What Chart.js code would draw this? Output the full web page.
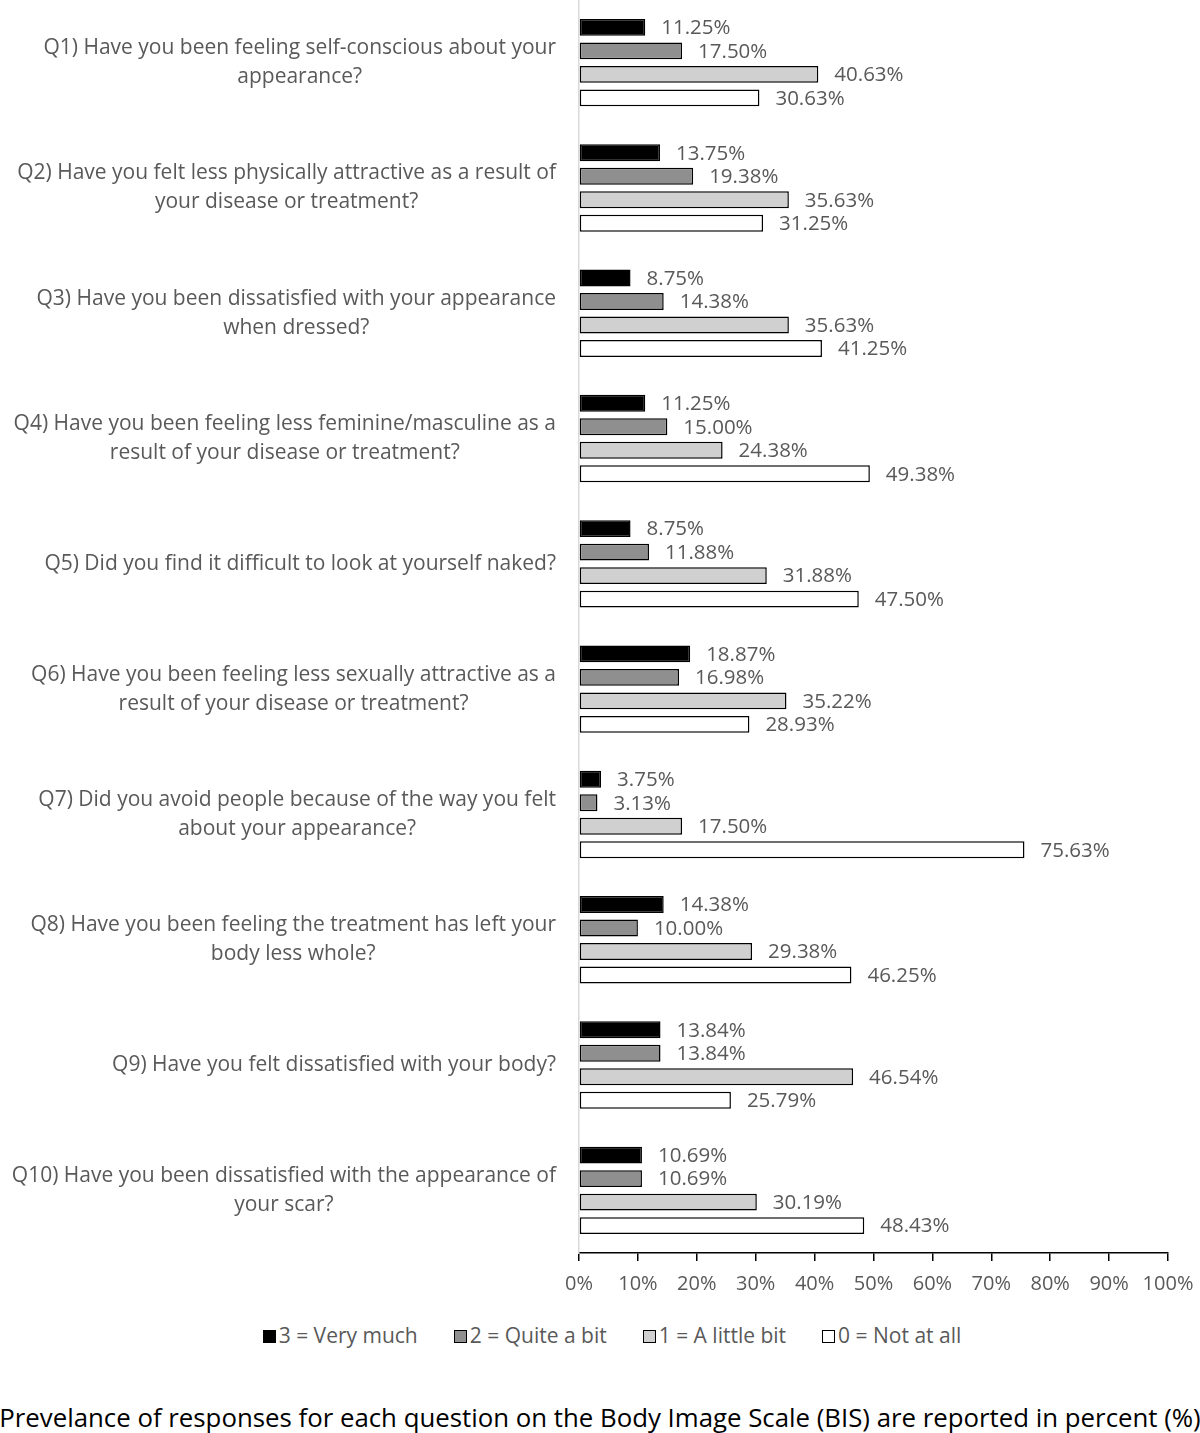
<!DOCTYPE html>
<html lang="en">

<head>
  <meta charset="UTF-8">
  <title>Body Image Scale responses</title>
  <script src="https://cdn.jsdelivr.net/npm/chart.js"></script>
  <style>
    body { margin: 0; background: #fff; font-family: 'Open Sans', sans-serif; }
    #wrap { position: relative; width: 1200px; height: 1433px; overflow: hidden; }
    #bisChart { position: absolute; left: 0; top: 0; }
    #chartLegend { position: absolute; left: 12px; width: 1200px; top: 1321px; text-align: center; color: #595959; font-size: 21px; white-space: nowrap; }
    #caption { position: absolute; left: -100px; width: 1400px; top: 1399px; text-align: center; color: #000; font-size: 25.8px; white-space: nowrap; }
  </style>
</head>

<body>
  <div id="wrap">
    <canvas id="bisChart" width="1200" height="1310"></canvas>
    <div id="chartLegend"></div>
    <div id="caption">Prevelance of responses for each question on the Body Image Scale (BIS) are reported in percent (%)</div>
  </div>
  <script>
    // Questions (y categories), each split over the lines used in the figure
    const questions = [
      ['Q1) Have you been feeling self-conscious about your', 'appearance?'],
      ['Q2) Have you felt less physically attractive as a result of', 'your disease or treatment?'],
      ['Q3) Have you been dissatisfied with your appearance', 'when dressed?'],
      ['Q4) Have you been feeling less feminine/masculine as a', 'result of your disease or treatment?'],
      ['Q5) Did you find it difficult to look at yourself naked?'],
      ['Q6) Have you been feeling less sexually attractive as a', 'result of your disease or treatment?'],
      ['Q7) Did you avoid people because of the way you felt', 'about your appearance?'],
      ['Q8) Have you been feeling the treatment has left your', 'body less whole?'],
      ['Q9) Have you felt dissatisfied with your body?'],
      ['Q10) Have you been dissatisfied with the appearance of', 'your scar?'],
    ];

    // Percent of responses per answer
    const veryMuch  = [11.25, 13.75, 8.75, 11.25, 8.75, 18.87, 3.75, 14.38, 13.84, 10.69];
    const quiteABit = [17.50, 19.38, 14.38, 15.00, 11.88, 16.98, 3.13, 10.00, 13.84, 10.69];
    const littleBit = [40.63, 35.63, 35.63, 24.38, 31.88, 35.22, 17.50, 29.38, 46.54, 30.19];
    const notAtAll  = [30.63, 31.25, 41.25, 49.38, 47.50, 28.93, 75.63, 46.25, 25.79, 48.43];

    const seriesLabels = ['3 = Very much', '2 = Quite a bit', '1 = A little bit', '0 = Not at all'];
    const seriesColors = ['#000000', '#8f8f8f', '#d0d0d0', '#ffffff'];

    const fontFamily = "'Open Sans', sans-serif";
    const textColor = '#595959';

    // legend built as html, like the figure's small boxed squares
    const generateLegend = () => {
      const legendContainer = document.getElementById('chartLegend');
      seriesLabels.forEach((label, i) => {
        const item = document.createElement('span');
        item.style.display = 'inline-block';
        item.style.margin = '0 18px';

        const box = document.createElement('span');
        box.style.display = 'inline-block';
        box.style.width = '11px';
        box.style.height = '11px';
        box.style.backgroundColor = seriesColors[i];
        box.style.border = '1.5px solid #000';
        box.style.marginRight = '3px';
        box.style.verticalAlign = '0px';

        const text = document.createElement('span');
        text.textContent = label;

        item.appendChild(box);
        item.appendChild(text);
        legendContainer.appendChild(item);
      });
    };
    generateLegend();

    const values = [veryMuch, quiteABit, littleBit, notAtAll];

    const data = {
      labels: questions.map(q => q.join(' ')),
      datasets: values.map((vals, i) => ({
        label: seriesLabels[i],
        data: vals,
        backgroundColor: seriesColors[i],
        borderColor: '#000000',
        borderWidth: 1.5,
        borderSkipped: false,
        barPercentage: 0.72,
        categoryPercentage: 0.75,
      })),
    };

    // Value labels to the right of every bar
    const valueLabels = {
      id: 'valueLabels',
      afterDatasetsDraw(chart) {
        const { ctx } = chart;
        ctx.save();
        ctx.font = `20.5px ${fontFamily}`;
        ctx.fillStyle = textColor;
        ctx.textAlign = 'left';
        ctx.textBaseline = 'middle';
        chart.data.datasets.forEach((ds, di) => {
          chart.getDatasetMeta(di).data.forEach((bar, i) => {
            ctx.fillText(ds.data[i].toFixed(2) + '%', bar.x + 16, bar.y + 1);
          });
        });
        ctx.restore();
      },
    };

    // Question labels: block right aligned to the axis, lines centred in the block
    const questionLabels = {
      id: 'questionLabels',
      afterDraw(chart) {
        const { ctx } = chart;
        const yScale = chart.scales.y;
        const lineHeight = 29;
        ctx.save();
        ctx.font = `21px ${fontFamily}`;
        ctx.fillStyle = textColor;
        ctx.textAlign = 'center';
        ctx.textBaseline = 'middle';
        questions.forEach((lines, i) => {
          const yMid = yScale.getPixelForTick(i);
          const w = Math.max(...lines.map(l => ctx.measureText(l).width));
          const xc = 556 - w / 2;
          lines.forEach((l, k) => {
            const y = yMid + (k - (lines.length - 1) / 2) * lineHeight;
            ctx.fillText(l, xc, y);
          });
        });
        ctx.restore();
      },
    };

    const options = {
      indexAxis: 'y',
      responsive: false,
      animation: false,
      layout: { padding: { top: 0, right: 32, left: 0, bottom: 0 } },
      scales: {
        x: {
          min: 0,
          max: 100,
          ticks: {
            stepSize: 10,
            padding: 11,
            color: textColor,
            font: { family: fontFamily, size: 20 },
            callback: v => v + '%',
          },
          grid: { drawOnChartArea: false, drawTicks: true, tickLength: 8, color: '#000', lineWidth: 1.5 },
          border: { display: true, color: '#000', width: 1.5 },
          afterFit: scale => {
            scale.height = 57;
            scale.paddingLeft = 0;
            scale.paddingRight = 0;
          },
        },
        y: {
          ticks: { display: false },
          grid: { display: false, drawTicks: false },
          border: { display: true, color: '#d9d9d9', width: 1.5 },
          afterFit: scale => { scale.width = 579; },
        },
      },
      plugins: {
        legend: { display: false },
        tooltip: { enabled: false },
      },
    };

    const bisChart = new Chart(document.getElementById('bisChart').getContext('2d'), {
      type: 'bar',
      data: data,
      options: options,
      plugins: [valueLabels, questionLabels],
    });
  </script>
</body>

</html>
